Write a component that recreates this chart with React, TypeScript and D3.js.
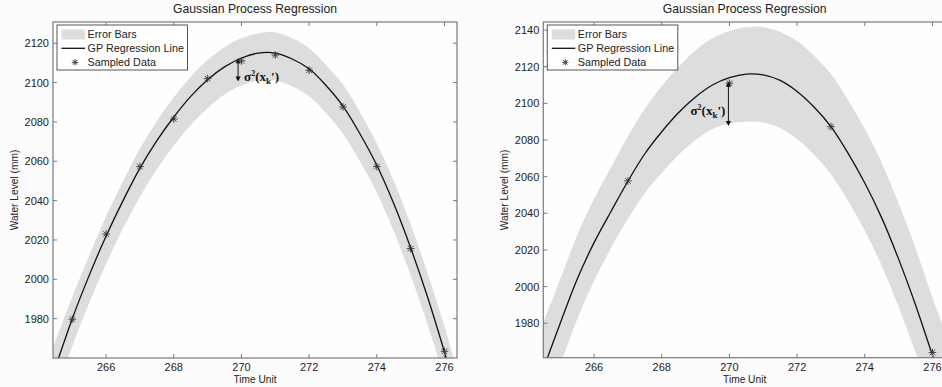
import React from 'react';
import * as d3 from 'd3';

// ---- data ----
const TIME_GRID = [264.4, 265, 265.5, 266, 266.5, 267, 267.5, 268, 268.5, 269, 269.5, 270, 270.5, 271, 271.5, 272, 272.5, 273, 273.5, 274, 274.5, 275, 275.5, 276, 276.4];

const LEFT_MEAN = [1950, 1980, 2002, 2022, 2040, 2056.5, 2070.5, 2082.5, 2093, 2101.5, 2108, 2112.5, 2115, 2115, 2112, 2107, 2098.5, 2088, 2074, 2058, 2038.5, 2016, 1991, 1963, 1939];
const LEFT_UPPER = [1964, 1991, 2012, 2032, 2050, 2066.5, 2080.5, 2092.5, 2103, 2111.5, 2118, 2122.5, 2125, 2125.5, 2122.5, 2117.5, 2109, 2099, 2085, 2069, 2050, 2028, 2003, 1976, 1952];
const LEFT_LOWER = [1935, 1966, 1988, 2008, 2026, 2042, 2056, 2068, 2078.5, 2087, 2094, 2098.5, 2101, 2101, 2098, 2093, 2084.5, 2074, 2060, 2044, 2024.5, 2002, 1977, 1949, 1925];
const LEFT_SAMPLE_X = [265, 266, 267, 268, 269, 270, 271, 272, 273, 274, 275, 276];
const LEFT_SAMPLE_Y = [1979.7, 2023, 2057.3, 2081.5, 2102, 2111, 2114, 2106.3, 2087.6, 2057.3, 2015.6, 1963.4];

const RIGHT_MEAN = [1950, 1980, 2004, 2024, 2041, 2057.5, 2072.5, 2084.5, 2095, 2103.5, 2110, 2114, 2116, 2115.5, 2112.5, 2106.5, 2098, 2087.3, 2073, 2056.5, 2037.5, 2015, 1990, 1962.7, 1942];
const RIGHT_UPPER = [1976, 2004, 2028, 2048, 2065, 2082, 2097, 2109.5, 2120, 2129, 2135.5, 2139.5, 2141.5, 2141.5, 2139, 2134, 2126, 2116, 2102, 2086, 2067.5, 2045.5, 2021, 1994, 1974];
const RIGHT_LOWER = [1926, 1957, 1982, 2003, 2021, 2037, 2051, 2062, 2072, 2080, 2086, 2089, 2090, 2089.5, 2086.5, 2080.5, 2072, 2061.3, 2047, 2030.5, 2011.5, 1989, 1964, 1936.7, 1916];
const RIGHT_SAMPLE_X = [267, 270, 273, 276];
const RIGHT_SAMPLE_Y = [2057.7, 2111, 2087.3, 1964];

const X_TICKS = [266, 268, 270, 272, 274, 276];
const LEFT_Y_TICKS = [1980, 2000, 2020, 2040, 2060, 2080, 2100, 2120];
const RIGHT_Y_TICKS = [1980, 2000, 2020, 2040, 2060, 2080, 2100, 2120, 2140];

const TITLE = 'Gaussian Process Regression';
const X_LABEL = 'Time Unit';
const Y_LABEL = 'Water Level (mm)';
const LEGEND_LABELS = ['Error Bars', 'GP Regression Line', 'Sampled Data'];

const SANS = '"Liberation Sans", Arial, sans-serif';
const SERIF = '"Liberation Serif", "Times New Roman", serif';
const BAND = '#dddddd';
const AXIS = '#7a7a7a';
const TEXT = '#222';

type PanelProps = {
  id: string;
  box: { x0: number; x1: number; y0: number; y1: number };
  xDomain: [number, number];
  yDomain: [number, number];
  mean: number[];
  upper: number[];
  lower: number[];
  sx: number[];
  sy: number[];
  yTicks: number[];
  arrow: { x: number; y1: number; y2: number };
  labelSide: 'right' | 'left';
};

function Star({ x, y, r = 3.8 }: { x: number; y: number; r?: number }) {
  const d = r * 0.72;
  return (
    <g stroke="#333" strokeWidth={0.9}>
      <line x1={x - r} y1={y} x2={x + r} y2={y} />
      <line x1={x} y1={y - r} x2={x} y2={y + r} />
      <line x1={x - d} y1={y - d} x2={x + d} y2={y + d} />
      <line x1={x - d} y1={y + d} x2={x + d} y2={y - d} />
    </g>
  );
}

function Panel(p: PanelProps) {
  const { x0, x1, y0, y1 } = p.box;
  const xs = d3.scaleLinear().domain(p.xDomain).range([x0, x1]);
  const ys = d3.scaleLinear().domain(p.yDomain).range([y1, y0]);
  const area = d3
    .area<number>()
    .x((_, i) => xs(TIME_GRID[i]))
    .y0((_, i) => ys(p.lower[i]))
    .y1((_, i) => ys(p.upper[i]))
    .curve(d3.curveCatmullRom.alpha(0.5));
  const line = d3
    .line<number>()
    .x((_, i) => xs(TIME_GRID[i]))
    .y((d) => ys(d))
    .curve(d3.curveCatmullRom.alpha(0.5));
  const cx = (x0 + x1) / 2;
  const cy = (y0 + y1) / 2;
  const tl = 4;
  const ax = xs(p.arrow.x);
  const ay1 = ys(p.arrow.y1);
  const ay2 = ys(p.arrow.y2);
  const ah = 5;
  const aw = 2.6;
  const lx = p.labelSide === 'right' ? ax + 6 : ax - 3;
  const ly = (ay1 + ay2) / 2 + 11;
  const lg = { x: x0 + 4, y: y0 + 3, w: 130.5, h: 45 };
  return (
    <g>
      <defs>
        <clipPath id={`clip-${p.id}`}>
          <rect x={x0} y={y0} width={x1 - x0} height={y1 - y0} />
        </clipPath>
      </defs>
      <rect x={x0} y={y0} width={x1 - x0} height={y1 - y0} fill="#fefefe" />
      <g clipPath={`url(#clip-${p.id})`}>
        <path d={area(p.mean) || ''} fill={BAND} />
        <path d={line(p.mean) || ''} fill="none" stroke="#111" strokeWidth={1.3} />
        {p.sx.map((x, i) => (
          <Star key={i} x={xs(x)} y={ys(p.sy[i])} />
        ))}
      </g>
      {/* arrow */}
      <g fill="#111" stroke="#111">
        <line x1={ax} y1={ay1 + 2} x2={ax} y2={ay2 - 2} strokeWidth={1} />
        <path d={`M${ax - aw},${ay1 + ah}L${ax + aw},${ay1 + ah}L${ax},${ay1}Z`} stroke="none" />
        <path d={`M${ax - aw},${ay2 - ah}L${ax + aw},${ay2 - ah}L${ax},${ay2}Z`} stroke="none" />
      </g>
      <text
        x={lx}
        y={ly}
        fontFamily={SERIF}
        fontWeight="bold"
        fontSize={13}
        fill="#111"
        textAnchor={p.labelSide === 'right' ? 'start' : 'end'}
      >
        σ<tspan dy={-5} fontSize={8}>2</tspan>
        <tspan dy={5}>(x</tspan>
        <tspan dy={3} fontSize={9}>k</tspan>
        <tspan dy={-3}>')</tspan>
      </text>
      {/* axes box */}
      <rect x={x0} y={y0} width={x1 - x0} height={y1 - y0} fill="none" stroke={AXIS} strokeWidth={1.2} />
      {X_TICKS.map((t) => (
        <g key={t} stroke={AXIS} strokeWidth={1}>
          <line x1={xs(t)} x2={xs(t)} y1={y1} y2={y1 - tl} />
          <line x1={xs(t)} x2={xs(t)} y1={y0} y2={y0 + tl} />
        </g>
      ))}
      {X_TICKS.map((t) => (
        <text key={t} x={xs(t)} y={y1 + 13} textAnchor="middle" fontFamily={SANS} fontSize={11} fill={TEXT}>
          {t}
        </text>
      ))}
      {p.yTicks.map((t) => (
        <g key={t} stroke={AXIS} strokeWidth={1}>
          <line x1={x0} x2={x0 + tl} y1={ys(t)} y2={ys(t)} />
          <line x1={x1} x2={x1 - tl} y1={ys(t)} y2={ys(t)} />
        </g>
      ))}
      {p.yTicks.map((t) => (
        <text key={t} x={x0 - 4} y={ys(t) + 4} textAnchor="end" fontFamily={SANS} fontSize={11} fill={TEXT}>
          {t}
        </text>
      ))}
      <text x={cx} y={13} textAnchor="middle" fontFamily={SANS} fontSize={12.2} fill={TEXT}>
        {TITLE}
      </text>
      <text x={cx} y={y1 + 25} textAnchor="middle" fontFamily={SANS} fontSize={10.2} fill={TEXT}>
        {X_LABEL}
      </text>
      <text
        transform={`translate(${x0 - 35.5},${cy}) rotate(-90)`}
        textAnchor="middle"
        fontFamily={SANS}
        fontSize={10.2}
        fill={TEXT}
      >
        {Y_LABEL}
      </text>
      {/* legend */}
      <rect x={lg.x} y={lg.y} width={lg.w} height={lg.h} fill="#fff" stroke="#555" strokeWidth={1} />
      <rect x={lg.x + 4.5} y={lg.y + 4.5} width={23.5} height={10} fill={BAND} />
      <line x1={lg.x + 4.5} x2={lg.x + 28} y1={lg.y + 23.3} y2={lg.y + 23.3} stroke="#111" strokeWidth={1.3} />
      <Star x={lg.x + 18} y={lg.y + 37.3} r={3.2} />
      {LEGEND_LABELS.map((s, i) => (
        <text key={s} x={lg.x + 30.5} y={lg.y + 13 + i * 14} fontFamily={SANS} fontSize={10.8} fill={TEXT}>
          {s}
        </text>
      ))}
    </g>
  );
}

export default function App() {
  return (
    <svg
      width={942}
      height={387}
      style={{ position: 'absolute', left: 0, top: 0, background: '#fcfcfc' }}
    >
      <Panel
        id="l"
        box={{ x0: 53, x1: 457, y0: 22, y1: 358 }}
        xDomain={[264.43, 276.37]}
        yDomain={[1960, 2130.8]}
        mean={LEFT_MEAN}
        upper={LEFT_UPPER}
        lower={LEFT_LOWER}
        sx={LEFT_SAMPLE_X}
        sy={LEFT_SAMPLE_Y}
        yTicks={LEFT_Y_TICKS}
        arrow={{ x: 269.9, y1: 2112.4, y2: 2100.5 }}
        labelSide="right"
      />
      <Panel
        id="r"
        box={{ x0: 543.3, x1: 946, y0: 22, y1: 357.7 }}
        xDomain={[264.5, 276.4]}
        yDomain={[1961.2, 2144.4]}
        mean={RIGHT_MEAN}
        upper={RIGHT_UPPER}
        lower={RIGHT_LOWER}
        sx={RIGHT_SAMPLE_X}
        sy={RIGHT_SAMPLE_Y}
        yTicks={RIGHT_Y_TICKS}
        arrow={{ x: 269.97, y1: 2111.8, y2: 2087.6 }}
        labelSide="left"
      />
    </svg>
  );
}
